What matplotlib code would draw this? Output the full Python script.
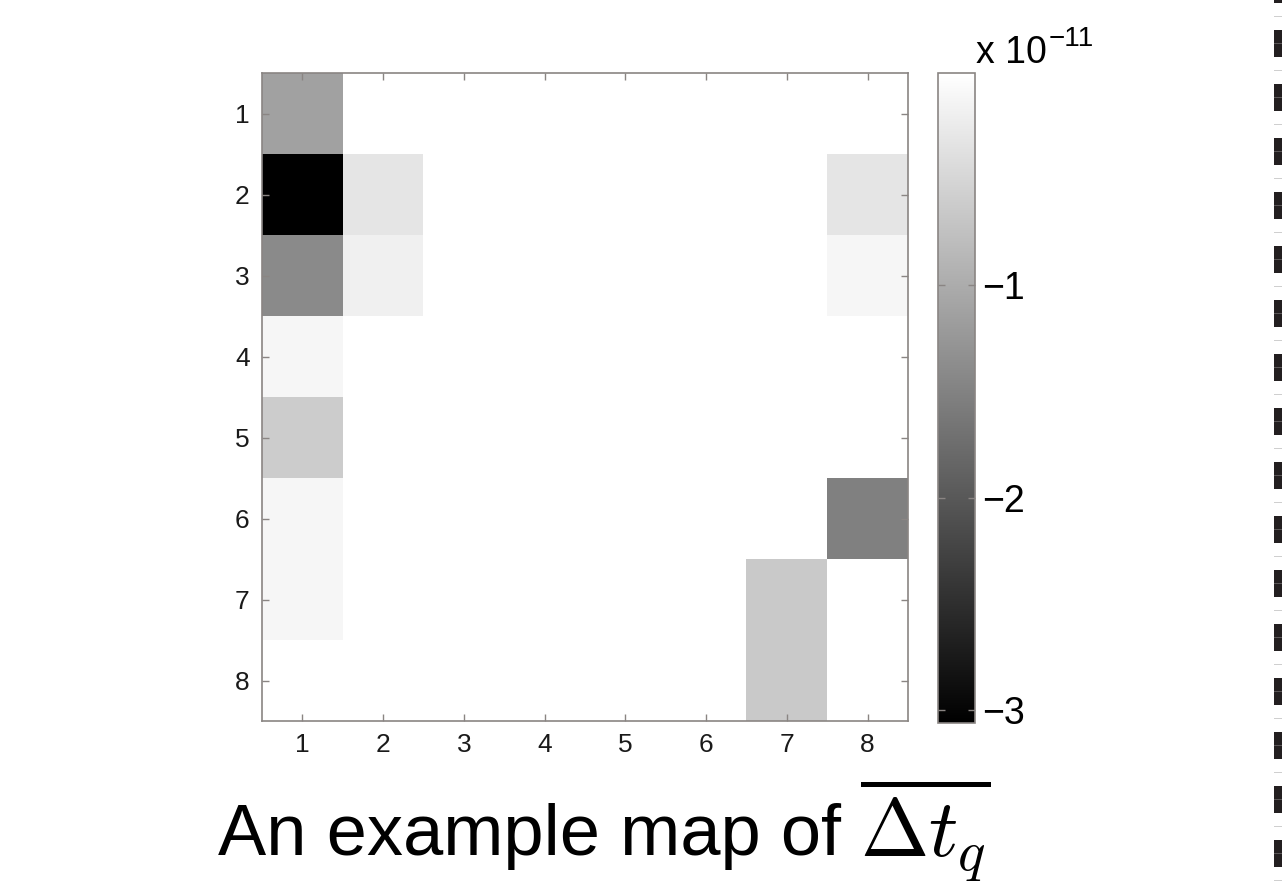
import numpy as np
import matplotlib
matplotlib.use("Agg")
import matplotlib.pyplot as plt
from matplotlib.lines import Line2D

matplotlib.rcParams["lines.scale_dashes"] = False

# ---- data (8x8 map, units of 1e-11) ----
rows = [1, 2, 3, 4, 5, 6, 7, 8]
cols = [1, 2, 3, 4, 5, 6, 7, 8]
col1 = [-1.13, -3.06, -1.40, -0.11, -0.61, -0.11, -0.11, 0.0]
col2 = [0.0, -0.32, -0.19, 0.0, 0.0, 0.0, 0.0, 0.0]
col7 = [0.0, 0.0, 0.0, 0.0, 0.0, 0.0, -0.65, -0.65]
col8 = [0.0, -0.32, -0.11, 0.0, 0.0, -1.53, 0.0, 0.0]
zero_col = [0.0] * 8
cbar_ticks = [-1, -2, -3]
title_words = "An example map of"
title_math = "$\\overline{\\Delta t_q}$"

data = np.array([col1, col2, zero_col, zero_col, zero_col, zero_col, col7, col8]).T
vmin, vmax = data.min(), data.max()

W, H = 1285, 883
fig = plt.figure(figsize=(W / 100, H / 100), dpi=100)
fig.patch.set_facecolor("white")

spine_col = "#8a8583"
tick_font = ["Liberation Sans Narrow", "Liberation Sans", "DejaVu Sans"]

ax = fig.add_axes([262 / W, 1 - 721 / H, (908 - 262) / W, (721 - 73) / H])
im = ax.imshow(data, cmap="gray", vmin=vmin, vmax=vmax, interpolation="nearest",
               extent=(0.5, 8.5, 8.5, 0.5), aspect="auto")
ax.set_xticks(cols)
ax.set_yticks(rows)
ax.set_xticklabels([str(c) for c in cols], fontfamily=tick_font, fontsize=19, color="#1a1a1a")
ax.set_yticklabels([str(r) for r in rows], fontfamily=tick_font, fontsize=19, color="#1a1a1a")
ax.tick_params(direction="in", length=5, width=1, color=spine_col,
               top=True, right=True, pad=9)
for s in ax.spines.values():
    s.set_color(spine_col)
    s.set_linewidth(1.2)

cax = fig.add_axes([938 / W, 1 - 723 / H, 37 / W, (723 - 73) / H])
cb = fig.colorbar(im, cax=cax, ticks=cbar_ticks)
cb.ax.set_yticklabels(["\u22121", "\u22122", "\u22123"], fontfamily="Liberation Sans", fontsize=27)
cb.ax.tick_params(direction="in", length=5, width=1, color=spine_col,
                  left=True, right=True, pad=5)
cb.outline.set_edgecolor(spine_col)
cb.outline.set_linewidth(1.2)

# exponent label
fig.text(976 / W, 1 - 63 / H, "x 10", fontfamily="Liberation Sans", fontsize=27,
         ha="left", va="baseline")
fig.text(1049 / W, 1 - 46 / H, "\u221211", fontfamily="Liberation Sans", fontsize=20,
         ha="left", va="baseline")

# caption
fig.text(218 / W, 1 - 855 / H, title_words, fontfamily="Liberation Sans", fontsize=52,
         ha="left", va="baseline")
fig.text(860 / W, 1 - 856 / H, title_math, fontsize=59,
         ha="left", va="baseline", math_fontfamily="cm")

# dashed border at right edge
px = 0.72
ln = Line2D([1278 / W, 1278 / W], [1.0, 0.0], transform=fig.transFigure,
            color="#231f20", linewidth=8 * px, dash_capstyle="butt",
            linestyle=(24 * px, (27 * px, 27 * px)))
fig.add_artist(ln)
ln2 = Line2D([1278 / W, 1278 / W], [1.0, 0.0], transform=fig.transFigure,
             color="#cfcfcf", linewidth=8 * px, dash_capstyle="butt",
             linestyle=(-16 * px, (1 * px, 53 * px)))
fig.add_artist(ln2)
ln3 = Line2D([1278 / W, 1278 / W], [1.0, 0.0], transform=fig.transFigure,
             color="#5a5657", linewidth=8 * px, dash_capstyle="butt",
             linestyle=(-43 * px, (1 * px, 53 * px)))
fig.add_artist(ln3)

fig.savefig("out.png", dpi=100, facecolor="white")
